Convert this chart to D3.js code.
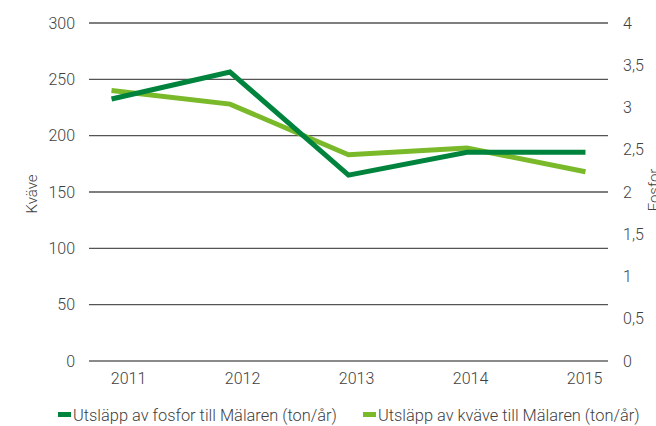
<!DOCTYPE html>
<html>
<head>
<meta charset="utf-8">
<script src="https://cdn.jsdelivr.net/npm/d3@7"></script>
<style>
    body { margin: 0; background: #fff; }
    svg text { font-family: Roboto, "Noto Sans", sans-serif; font-weight: 300; fill: #3f3f3f; }
</style>
</head>
<body>
<svg id="chart"></svg>
<script>
// data
const years = ['2011', '2012', '2013', '2014', '2015'];
const fosfor = [3.1, 3.42, 2.2, 2.47, 2.47]; // right axis, ton/år
const kvave = [240, 228, 183, 189, 168]; // left axis, ton/år
const leftTicks = [0, 50, 100, 150, 200, 250, 300];
const rightTicks = [0, 0.5, 1, 1.5, 2, 2.5, 3, 3.5, 4];
const seriesNames = [
    'Utsläpp av fosfor till Mälaren (ton/år)',
    'Utsläpp av kväve till Mälaren (ton/år)'
];

const width = 656;
const height = 426;
const plot = { left: 89, right: 608, top: 23, bottom: 361 };
const darkGreen = '#00843d';
const lightGreen = '#7ab929';

const svg = d3.select('#chart').attr('width', width).attr('height', height);

const x = d3.scalePoint().domain(years).range([plot.left, plot.right]).padding(0.19);
// year labels sit a bit off the data points in the original
const xLabel = d3.scalePoint().domain(years).range([128, 584]);
const yLeft = d3.scaleLinear().domain([0, 300]).range([plot.bottom, plot.top]);
const yRight = d3.scaleLinear().domain([0, 4]).range([plot.bottom, plot.top]);

// gridlines
svg.append('g')
    .selectAll('line')
    .data(leftTicks)
    .join('line')
    .attr('x1', plot.left)
    .attr('x2', plot.right)
    .attr('y1', d => yLeft(d))
    .attr('y2', d => yLeft(d))
    .attr('stroke', d => (d === 0 ? '#8a8a8a' : '#555'))
    .attr('stroke-width', d => (d === 0 ? 2.2 : 1.3));

// left axis
const leftAxis = svg.append('g')
    .attr('transform', `translate(${plot.left - 14},0)`)
    .call(d3.axisLeft(yLeft).tickValues(leftTicks).tickSize(0).tickPadding(0));
leftAxis.select('.domain').remove();
leftAxis.selectAll('text').attr('font-size', 16).attr('fill', '#3f3f3f');

// right axis
const fmtComma = d => String(d).replace('.', ',');
const rightAxis = svg.append('g')
    .attr('transform', `translate(${plot.right + 15},0)`)
    .call(d3.axisRight(yRight).tickValues(rightTicks).tickSize(0).tickPadding(0).tickFormat(fmtComma));
rightAxis.select('.domain').remove();
rightAxis.selectAll('text').attr('font-size', 16).attr('fill', '#3f3f3f');

// x axis labels
const xAxis = svg.append('g')
    .attr('transform', `translate(0,${plot.bottom + 12})`)
    .call(d3.axisBottom(xLabel).tickSize(0).tickPadding(0));
xAxis.select('.domain').remove();
xAxis.selectAll('text').attr('font-size', 16).attr('fill', '#3f3f3f');

// axis titles
svg.append('text')
    .attr('transform', 'translate(37,194) rotate(-90)')
    .attr('text-anchor', 'middle')
    .attr('font-size', 15)
    .text('Kväve');

svg.append('text')
    .attr('transform', 'translate(659,190) rotate(-90)')
    .attr('text-anchor', 'middle')
    .attr('font-size', 15)
    .text('Fosfor');

// lines
const lineLeft = d3.line().x((d, i) => x(years[i])).y(d => yLeft(d));
const lineRight = d3.line().x((d, i) => x(years[i])).y(d => yRight(d));

svg.append('path')
    .datum(kvave)
    .attr('d', lineLeft)
    .attr('fill', 'none')
    .attr('stroke', lightGreen)
    .attr('stroke-width', 5);

svg.append('path')
    .datum(fosfor)
    .attr('d', lineRight)
    .attr('fill', 'none')
    .attr('stroke', darkGreen)
    .attr('stroke-width', 5);

// legend
const legendX = [58, 363];
const legend = svg.append('g')
    .selectAll('g')
    .data(seriesNames)
    .join('g')
    .attr('transform', (d, i) => `translate(${legendX[i]},414)`);

legend.append('rect')
    .attr('width', 13)
    .attr('height', 5)
    .attr('y', -2)
    .attr('fill', (d, i) => (i === 0 ? darkGreen : lightGreen));

legend.append('text')
    .attr('x', 15)
    .attr('y', 7)
    .attr('font-size', 16.4)
    .text(d => d);
</script>
</body>
</html>
